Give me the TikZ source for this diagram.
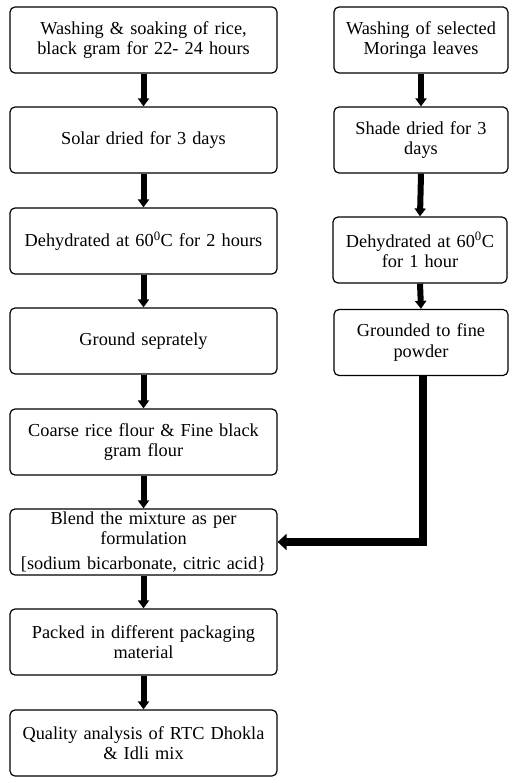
\documentclass[tikz,border=0pt]{standalone}
\usepackage{fontspec}
\setmainfont{Liberation Serif}
\usepackage{tikz}
\usetikzlibrary{positioning}
\usetikzlibrary{arrows.meta}

\begin{document}
\begin{tikzpicture}[x=1pt,y=-1pt,
    stepbox/.style={draw,line width=1.2pt,rounded corners=5pt,align=center,
        minimum height=66pt,inner sep=1pt,font=\fontsize{18.3}{20.3}\selectfont},
    leftbox/.style={stepbox,minimum width=267pt,text width=262pt},
    rightbox/.style={stepbox,minimum width=174pt,text width=170pt},
    flow/.style={line width=6pt,-{Triangle[length=8pt,width=11pt]}},
    feed/.style={line width=8pt,line join=miter,-{Triangle[length=9pt,width=16pt]}}]
    \useasboundingbox (0,0) rectangle (517,783);
    % left column
    \node[leftbox] (wash) at (143.5,40) {Washing \& soaking of rice,\\black gram for 22- 24 hours};
    \node[leftbox] (solar) at (143.5,140) {Solar dried for 3 days};
    \node[leftbox] (dehyd) at (143.5,241) {Dehydrated at 60\textsuperscript{0}C for 2 hours};
    \node[leftbox] (ground) at (143.5,341) {Ground seprately};
    \node[leftbox] (flour) at (143.5,442) {Coarse rice flour \& Fine black\\gram flour};
    \node[leftbox] (blend) at (143.5,542) {Blend the mixture as per\\formulation\\[4pt][sodium bicarbonate, citric acid\}};
    \node[leftbox] (pack) at (143.5,642) {Packed in different packaging\\material};
    \node[leftbox] (quality) at (143.5,743) {Quality analysis of RTC Dhokla\\\& Idli mix};
    % right column
    \node[rightbox] (leaves) at (421,40) {Washing of selected\\Moringa leaves};
    \node[rightbox] (shade) at (421,140) {Shade dried for 3\\days};
    \node[rightbox] (dry) at (420,250) {Dehydrated at 60\textsuperscript{0}C\\for 1 hour};
    \node[rightbox] (powder) at (421,342.5) {Grounded to fine\\powder};
    % arrows
    \foreach \from/\to in {wash/solar,solar/dehyd,dehyd/ground,ground/flour,
        flour/blend,blend/pack,pack/quality,leaves/shade,shade/dry,dry/powder}
        \draw[flow] (\from.south) -- (\to.north);
    \draw[feed] ([xshift=2pt]powder.south) |- (blend.east);
\end{tikzpicture}
\end{document}
